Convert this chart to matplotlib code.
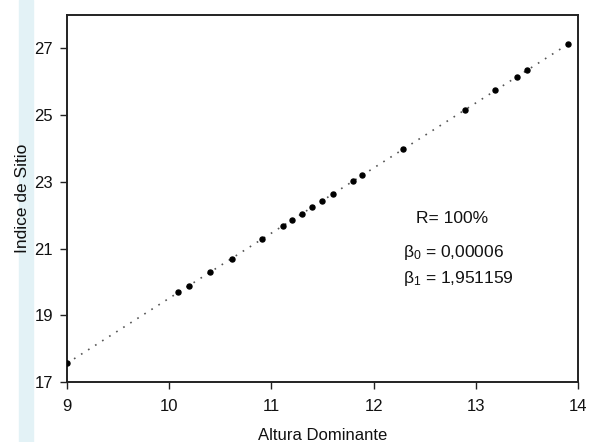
import matplotlib
matplotlib.use("Agg")
import matplotlib.pyplot as plt
from matplotlib.patches import Rectangle

plt.rcParams['font.family'] = ['Liberation Sans', 'DejaVu Sans']
plt.rcParams['mathtext.default'] = 'regular'

# Data
altura = [9.00, 10.09, 10.19, 10.40, 10.61, 10.91, 11.11, 11.20, 11.30, 11.40,
          11.50, 11.60, 11.80, 11.89, 12.29, 12.89, 13.19, 13.40, 13.50, 13.90]
indice = [17.56, 19.69, 19.88, 20.29, 20.70, 21.29, 21.68, 21.85, 22.05, 22.24,
          22.44, 22.63, 23.02, 23.20, 23.98, 25.15, 25.74, 26.15, 26.34, 27.12]
fit_x = [9.00, 13.90]
fit_y = [17.56, 27.12]

xticks = [9, 10, 11, 12, 13, 14]
yticks = [17, 19, 21, 23, 25, 27]

fig = plt.figure(figsize=(5.96, 4.42), dpi=100)
fig.patches.append(Rectangle((19/596, 0), 14/596, 1, transform=fig.transFigure,
                             color='#e3f2f6', zorder=-5))
ax = fig.add_axes([67/596, 60/442, 511/596, 367/442])

ax.plot(fit_x, fit_y, linestyle=(0, (1, 4)), color='#555555', lw=1.2, zorder=2)
ax.plot(altura, indice, 'o', color='black', markersize=3.6, zorder=3)

ax.set_xlim(9, 14)
ax.set_ylim(17, 28)
ax.set_xticks(xticks)
ax.set_yticks(yticks)
ax.tick_params(direction='out', length=5, width=1, colors='#222222', labelsize=12,
               labelcolor='#111111')
ax.tick_params(axis='x', pad=7)
ax.tick_params(axis='y', pad=5)
for s in ax.spines.values():
    s.set_linewidth(1.4)
    s.set_color('#222222')

ax.set_xlabel('Altura Dominante', fontsize=12, labelpad=10, color='#111111')
ax.set_ylabel('Indice de Sitio', fontsize=12.5, labelpad=3, color='#111111')

ax.text(12.41, 21.91, 'R= 100%', fontsize=12.5, va='center', color='#111111')
ax.text(12.29, 20.89, r'$\beta_{0}$ = 0,00006', fontsize=12.5, va='center', color='#111111')
ax.text(12.29, 20.11, r'$\beta_{1}$ = 1,951159', fontsize=12.5, va='center', color='#111111')

fig.savefig('out.png', dpi=100)
